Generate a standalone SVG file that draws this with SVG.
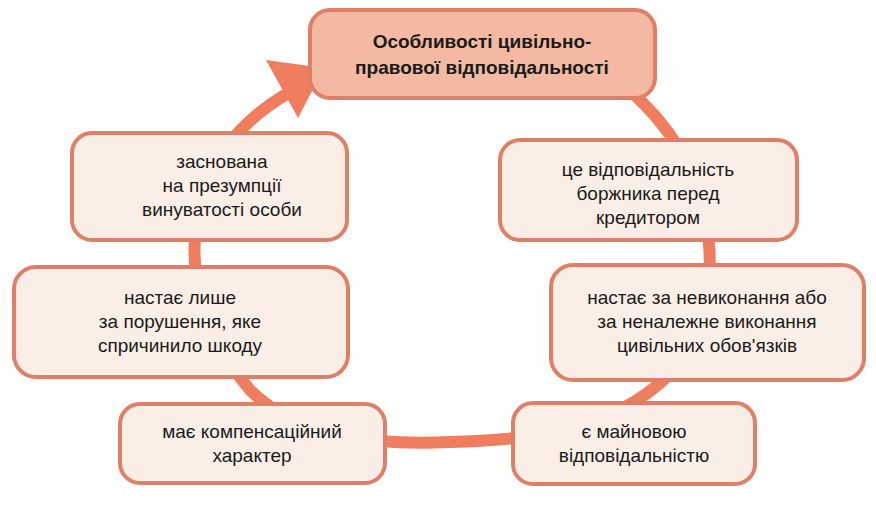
<svg xmlns="http://www.w3.org/2000/svg" width="876" height="508" viewBox="0 0 876 508">
<style>
.n rect{fill:#fbeee7;stroke:#df7f66;stroke-width:4}
.t{font-family:"Liberation Sans",Arial,sans-serif;font-size:19px;fill:#1a1a1a;text-anchor:middle}
</style>
<rect width="876" height="508" fill="#ffffff"/>
<g id="connectors" fill="none" stroke="#ef7d5e" stroke-width="12">
<path d="M290,92 C250,115 215,150 200,200 C185,270 200,330 250,390 C300,440 380,445 450,442 C560,440 640,420 690,350 C720,290 715,210 680,150 C665,125 650,110 635,95"/>
<polygon points="266,60 324,68 298,118" fill="#ef7d5e" stroke="none"/>
</g>
<g id="top" class="n"><rect x="310" y="10" width="345" height="88" rx="20" style="fill:#f4b9a2"/>
<text class="t" x="482" y="48" font-weight="bold" font-size="20">Особливості цивільно-</text>
<text class="t" x="482" y="74" font-weight="bold" font-size="20">правової відповідальності</text></g>
<g id="l1" class="n"><rect x="72" y="133" width="275" height="107" rx="20"/>
<text class="t" x="222" y="168">заснована</text><text class="t" x="222" y="192">на презумпції</text><text class="t" x="222" y="216">винуватості особи</text></g>
<g id="l2" class="n"><rect x="14" y="267" width="334" height="110" rx="22"/>
<text class="t" x="180" y="304">настає лише</text><text class="t" x="180" y="328">за порушення, яке</text><text class="t" x="180" y="352">спричинило шкоду</text></g>
<g id="l3" class="n"><rect x="120" y="404" width="265" height="79" rx="20"/>
<text class="t" x="252" y="438">має компенсаційний</text><text class="t" x="252" y="462">характер</text></g>
<g id="r1" class="n"><rect x="500" y="140" width="297" height="100" rx="20"/>
<text class="t" x="648" y="176">це відповідальність</text><text class="t" x="648" y="200">боржника перед</text><text class="t" x="648" y="224">кредитором</text></g>
<g id="r2" class="n"><rect x="551" y="265" width="313" height="115" rx="22"/>
<text class="t" x="707" y="304">настає за невиконання або</text><text class="t" x="707" y="328">за неналежне виконання</text><text class="t" x="707" y="352">цивільних обов'язків</text></g>
<g id="r3" class="n"><rect x="513" y="403" width="242" height="81" rx="20"/>
<text class="t" x="634" y="438">є майновою</text><text class="t" x="634" y="462">відповідальністю</text></g>
</svg>
